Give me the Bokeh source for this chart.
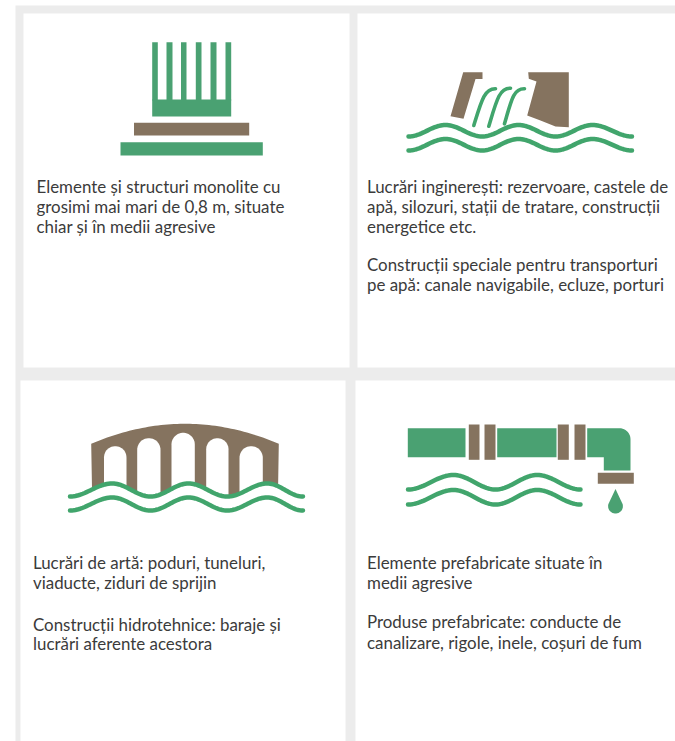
from bokeh.plotting import figure
from bokeh.models import ColumnDataSource, Range1d
from bokeh.core.properties import value
from bokeh.embed import file_html
from bokeh.resources import INLINE
import numpy as np

GREEN = "#4aa172"
WAVE = "#41a56c"
BROWN = "#85735f"
GRAY = "#ececec"
TEXT = "#3b3b3b"
FONT = "Lato"
FS = "16.9px"

# Texts: one list per panel
panel_tl = ["Elemente și structuri monolite cu", "grosimi mai mari de 0,8 m, situate", "chiar și în medii agresive"]
panel_tr = ["Lucrări inginerești: rezervoare, castele de", "apă, silozuri, stații de tratare, construcții",
            "energetice etc.", "Construcții speciale pentru transporturi", "pe apă: canale navigabile, ecluze, porturi"]
panel_bl = ["Lucrări de artă: poduri, tuneluri,", "viaducte, ziduri de sprijin",
            "Construcții hidrotehnice: baraje și", "lucrări aferente acestora"]
panel_br = ["Elemente prefabricate situate în", "medii agresive",
            "Produse prefabricate: conducte de", "canalizare, rigole, inele, coșuri de fum"]
ys_tl = [186, 206, 226]
ys_tr = [186, 206, 226, 264, 284]
ys_bl = [562, 582, 624, 643]
ys_br = [562, 582, 621, 642]

p = figure(width=675, height=741, x_range=Range1d(0, 675), y_range=Range1d(741, 0),
           output_backend="svg", toolbar_location=None, min_border=0,
           background_fill_color="white", border_fill_color="white", outline_line_color=None)
p.axis.visible = False
p.grid.visible = False

# panels
p.quad(left=[15], right=[675], top=[5], bottom=[741], fill_color=GRAY, line_color=None)
p.quad(left=[23, 357, 20, 355], right=[349, 675, 345, 675], top=[13, 13, 380, 380],
       bottom=[367, 367, 741, 741], fill_color="white", line_color=None)


def rects(l, r, t, b, color):
    p.quad(left=l, right=r, top=t, bottom=b, fill_color=color, line_color=None)


def wave_xy(knots):
    xs, ys = [], []
    for (x0, y0), (x1, y1) in zip(knots[:-1], knots[1:]):
        t = np.linspace(0, 1, 24)
        s = (1 - np.cos(np.pi * t)) / 2
        xs += list(x0 + (x1 - x0) * t)
        ys += list(y0 + (y1 - y0) * s)
    return xs, ys


def wave(knots, dy):
    x, y = wave_xy(knots)
    p.line(x, y, line_color=WAVE, line_width=4.5, line_cap="round", line_join="round")
    p.line(x, [v + dy for v in y], line_color=WAVE, line_width=4.5, line_cap="round", line_join="round")


def arc_pts(cx, cy, r, a0, a1, n=24):
    a = np.radians(np.linspace(a0, a1, n))
    return list(cx + r * np.cos(a)), list(cy + r * np.sin(a))


# 1: monolith
rects([151.7, 166, 180.5, 195.3, 210, 225], [157.3, 172, 186, 201, 216, 230.7],
      [41.7] * 6, [100] * 6, GREEN)
rects([151.7, 120], [230.7, 262.3], [99, 141.7], [116, 155], GREEN)
rects([133.5], [248.7], [122.3], [135], BROWN)

# 2: dam
p.patch([462.7, 482, 482, 475, 463, 450], [71.7, 71.7, 78.5, 78.5, 118.3, 115.7],
        fill_color=BROWN, line_color=None)
p.patch([527.7, 568.3, 568.3, 555, 540, 526.7, 536, 528.3],
        [71.7, 71.7, 126.7, 126, 120, 115, 81, 78.3], fill_color=BROWN, line_color=None)
fx0 = [473.3, 488.3, 504]
fy0 = [125, 125.7, 123.3]
fx1 = [495, 510, 524]
fy1 = [88.3, 87.7, 88.3]
p.bezier(x0=fx0, y0=fy0, x1=fx1, y1=fy1,
         cx0=[481, 496, 511], cy0=[100, 100, 99],
         cx1=[484, 499, 513], cy1=[88, 87, 88],
         line_color=WAVE, line_width=3.6, line_cap="round")
wave([(408, 136), (445, 124.5), (481.7, 136), (518, 124.5), (555, 136), (592, 124.5), (631.5, 136)], 14)

# 3: bridge
kn3 = [(69.5, 496), (111.7, 483), (150, 496), (188, 483), (226.7, 496), (266.7, 483), (302.5, 496)]
wx, wy = wave_xy(kn3)
bx = np.linspace(90.7, 278.3, 60)
by = 423.3 + 20 * ((bx - 184.5) / 93.8) ** 2
keep = [(a, b) for a, b in zip(wx, wy) if 90.7 <= a <= 278.3]
p.patch(list(bx) + [a for a, _ in keep][::-1], list(by) + [b for _, b in keep][::-1],
        fill_color=BROWN, line_color=None)
arch_l = [103.5, 136.7, 171, 205.7, 239]
arch_r = [126, 160, 194.3, 228, 262.3]
arch_t = [445.7, 437.7, 432.3, 437.7, 445.7]
axs, ays = [], []
for l, r, t in zip(arch_l, arch_r, arch_t):
    rad = (r - l) / 2
    ax, ay = arc_pts((l + r) / 2, t + rad, rad, 180, 360)
    axs.append([l] + ax + [r])
    ays.append([500] + ay + [500])
p.patches(axs, ays, fill_color="white", line_color=None)
wave(kn3, 14)

# 4: pipe
rects([407.3, 496.7], [465, 556], [427.7, 427.7], [456.7, 456.7], GREEN)
rects([468.3, 484, 557.3, 574], [479, 495, 568.3, 585], [424] * 4, [459.3] * 4, BROWN)
ex, ey = arc_pts(619, 438.7, 11, 270, 360, 12)
p.patch([586.7] + ex + [630, 603.3, 603.3, 586.7], [427.7] + ey + [470, 470, 456.7, 456.7],
        fill_color=GREEN, line_color=None)
rects([597.3], [633.3], [472.3], [483.3], BROWN)
dx, dy = arc_pts(615, 505.7, 7.4, -20, 200, 24)
p.patch([615] + dx, [488.5] + dy, fill_color=GREEN, line_color=None)
wave([(407.5, 489), (453, 474.5), (495, 489), (536.7, 474.5), (580, 489)], 15)

# texts
for lines, ys, x in [(panel_tl, ys_tl, 36), (panel_tr, ys_tr, 366.5), (panel_bl, ys_bl, 32.5), (panel_br, ys_br, 366.5)]:
    src = ColumnDataSource(dict(x=[x] * len(lines), y=ys, t=lines))
    p.text(x="x", y="y", text="t", source=src, text_font=value(FONT), text_font_size=value(FS),
           text_color=TEXT, text_baseline="middle", text_align="left")

open("out.html", "w").write(file_html(p, INLINE))
